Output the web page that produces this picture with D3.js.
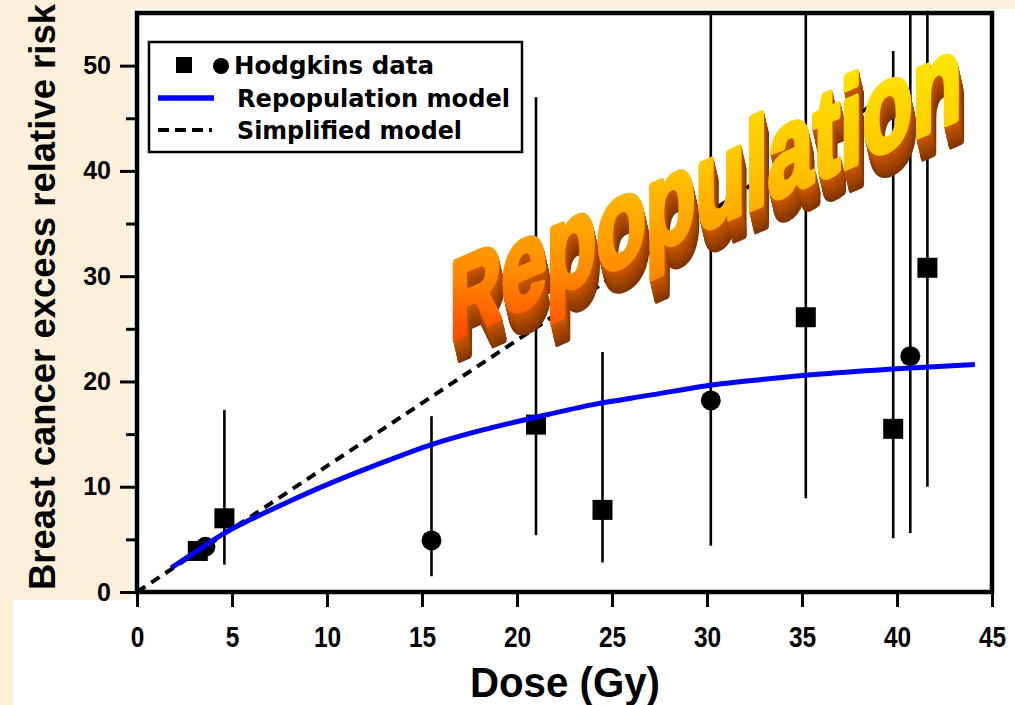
<!DOCTYPE html>
<html>
<head>
  <meta charset="utf-8">
  <script src="https://cdn.jsdelivr.net/npm/d3@7"></script>
  <style>
    body { margin: 0; background: #fcf0da; }
  </style>
</head>
<body>
  <svg id="chart" width="1015" height="705"></svg>
  <script>
    // Hodgkins data points
    let doses  = [3.2, 3.6, 4.6, 15.5, 21.0, 24.5, 30.2, 35.2, 39.8, 40.7, 41.6]
    let risks  = [3.9, 4.3, 7.0, 4.9, 15.9, 7.8, 18.2, 26.1, 15.5, 22.4, 30.8]
    let lows   = [null, null, 2.6, 1.5, 5.4, 2.8, 4.4, 8.9, 5.1, 5.6, 10.0]
    let highs  = [null, null, 17.3, 16.7, 47.0, 22.8, 60, 60, 51.4, 60, 60]
    let shapes = ["square", "circle", "square", "circle", "square", "square",
                  "circle", "square", "square", "circle", "square"]

    // repopulation model curve
    let repopDose = [1.8, 3, 4.6, 6, 8, 10, 12.5, 15.5, 18, 21, 24, 27, 30, 33, 36, 40, 44.1]
    let repopRisk = [2.3, 3.7, 5.6, 6.9, 8.6, 10.2, 12.0, 14.0, 15.3, 16.6, 17.8, 18.7, 19.6, 20.2, 20.7, 21.2, 21.6]

    // simplified (linear) model
    let simpDose = [0, 40.3]
    let simpRisk = [0, 48.2]

    let xTicks = [0, 5, 10, 15, 20, 25, 30, 35, 40, 45]
    let yTicks = [0, 10, 20, 30, 40, 50]
    let yMinor = [5, 15, 25, 35, 45]

    let svg = d3.select("#chart")

    let scX = d3.scaleLinear().domain([0, 45]).range([137, 992])
    let scY = d3.scaleLinear().domain([0, 55]).range([592, 13])

    let defs = svg.append("defs")
    defs.append("clipPath").attr("id", "plotClip")
        .append("rect")
        .attr("x", scX(0)).attr("y", scY(55))
        .attr("width", scX(45) - scX(0)).attr("height", scY(0) - scY(55))

    // white areas
    svg.append("rect").attr("x", 131).attr("y", 9)
       .attr("width", 884).attr("height", 591).attr("fill", "white")
    svg.append("rect").attr("x", 13).attr("y", 600)
       .attr("width", 1002).attr("height", 105).attr("fill", "white")

    let plot = svg.append("g").attr("clip-path", "url(#plotClip)")

    let pts = doses.map((d, i) => ({x: d, y: risks[i], lo: lows[i], hi: highs[i], s: shapes[i]}))

    // error bars
    plot.selectAll("line.err")
        .data(pts.filter(d => d.lo != null))
        .enter().append("line")
        .attr("class", "err")
        .attr("x1", d => scX(d.x)).attr("x2", d => scX(d.x))
        .attr("y1", d => scY(d.lo)).attr("y2", d => scY(d.hi))
        .attr("stroke", "black").attr("stroke-width", 2.6)

    // markers
    plot.selectAll("rect.sq")
        .data(pts.filter(d => d.s == "square"))
        .enter().append("rect")
        .attr("class", "sq")
        .attr("x", d => scX(d.x) - 10).attr("y", d => scY(d.y) - 10)
        .attr("width", 20).attr("height", 20)
        .attr("fill", "black")

    plot.selectAll("circle.ci")
        .data(pts.filter(d => d.s == "circle"))
        .enter().append("circle")
        .attr("class", "ci")
        .attr("cx", d => scX(d.x)).attr("cy", d => scY(d.y))
        .attr("r", 10).attr("fill", "black")

    let line = d3.line().x(d => scX(d[0])).y(d => scY(d[1]))

    plot.append("path")
        .datum(simpDose.map((d, i) => [d, simpRisk[i]]))
        .attr("d", line)
        .attr("fill", "none").attr("stroke", "black")
        .attr("stroke-width", 4).attr("stroke-dasharray", "10,7")

    plot.append("path")
        .datum(repopDose.map((d, i) => [d, repopRisk[i]]))
        .attr("d", line.curve(d3.curveCatmullRom))
        .attr("fill", "none").attr("stroke", "#0000ff")
        .attr("stroke-width", 5)

    // axes
    let xAxis = svg.append("g")
        .attr("transform", `translate(0,${scY(0)})`)
        .call(d3.axisBottom(scX).tickValues(xTicks).tickSize(15).tickPadding(19))
    xAxis.select(".domain").remove()
    xAxis.selectAll("line").attr("stroke-width", 3)
    xAxis.selectAll("text")
         .attr("font-family", "'Liberation Sans', Arial, sans-serif")
         .attr("font-weight", "bold").attr("font-size", 30).attr("fill", "black")
         .attr("textLength", d => String(d).length * 13.6)
         .attr("lengthAdjust", "spacingAndGlyphs")

    let yAxis = svg.append("g")
        .attr("transform", `translate(${scX(0)},0)`)
        .call(d3.axisLeft(scY).tickValues(yTicks).tickSize(17).tickPadding(9))
    yAxis.select(".domain").remove()
    yAxis.selectAll("line").attr("stroke-width", 3)
    yAxis.selectAll("text")
         .attr("font-family", "'Liberation Sans', Arial, sans-serif")
         .attr("font-weight", "bold").attr("font-size", 25).attr("fill", "black")

    let yMin = svg.append("g")
        .attr("transform", `translate(${scX(0)},0)`)
        .call(d3.axisLeft(scY).tickValues(yMinor).tickSize(11).tickFormat(""))
    yMin.select(".domain").remove()
    yMin.selectAll("line").attr("stroke-width", 3)

    // frame
    svg.append("rect")
       .attr("x", scX(0)).attr("y", scY(55))
       .attr("width", scX(45) - scX(0)).attr("height", scY(0) - scY(55))
       .attr("fill", "none").attr("stroke", "black").attr("stroke-width", 4.5)

    // axis titles
    svg.append("text")
       .attr("x", 565).attr("y", 697)
       .attr("text-anchor", "middle")
       .attr("font-family", "'Liberation Sans', Arial, sans-serif")
       .attr("font-weight", "bold").attr("font-size", 42)
       .attr("textLength", 190).attr("lengthAdjust", "spacingAndGlyphs")
       .text("Dose (Gy)")

    svg.append("text")
       .attr("transform", "translate(55,297) rotate(-90)")
       .attr("text-anchor", "middle")
       .attr("font-family", "'Liberation Sans', Arial, sans-serif")
       .attr("font-weight", "bold").attr("font-size", 36)
       .attr("textLength", 586).attr("lengthAdjust", "spacingAndGlyphs")
       .text("Breast cancer excess relative risk")

    // legend
    let leg = svg.append("g")
    leg.append("rect").attr("x", 149).attr("y", 42).attr("width", 373).attr("height", 110)
       .attr("fill", "white").attr("stroke", "black").attr("stroke-width", 2.5)
    leg.append("rect").attr("x", 176).attr("y", 57).attr("width", 16).attr("height", 16).attr("fill", "black")
    leg.append("circle").attr("cx", 221).attr("cy", 66).attr("r", 8).attr("fill", "black")
    leg.append("line").attr("x1", 158).attr("x2", 214).attr("y1", 98).attr("y2", 98)
       .attr("stroke", "#0000ff").attr("stroke-width", 5.5)
    leg.append("line").attr("x1", 158).attr("x2", 212).attr("y1", 130).attr("y2", 130)
       .attr("stroke", "black").attr("stroke-width", 4).attr("stroke-dasharray", "11,6")
    let legLabels = ["Hodgkins data", "Repopulation model", "Simplified model"]
    let legWidths = [200, 273, 225]
    leg.selectAll("text.lg").data(legLabels).enter().append("text")
       .attr("class", "lg")
       .attr("x", (d, i) => i == 0 ? 234 : 237)
       .attr("y", (d, i) => 74 + i * 32.5)
       .attr("font-family", "'DejaVu Sans', sans-serif")
       .attr("font-weight", "bold").attr("font-size", 24)
       .attr("textLength", (d, i) => legWidths[i]).attr("lengthAdjust", "spacingAndGlyphs")
       .text(d => d)

    // "Repopulation" word art
    let waFont = "'Liberation Sans', Arial, sans-serif"
    let waX = 450, waY = 340, waSkew = -23.5, waLen = 512
    let t = Math.tan(waSkew * Math.PI / 180)
    // gradient laid out so its bands run level on screen despite the skew
    let sTop = 50 - waY, sBot = 345 - waY
    let k = (sBot - sTop) / (1 + t * t)
    let grad = defs.append("linearGradient").attr("id", "waGrad")
        .attr("gradientUnits", "userSpaceOnUse")
        .attr("x1", 0).attr("y1", sTop)
        .attr("x2", k * t).attr("y2", sTop + k)
    grad.append("stop").attr("offset", 0).attr("stop-color", "#ffe800")
    grad.append("stop").attr("offset", 0.4).attr("stop-color", "#ffc400")
    grad.append("stop").attr("offset", 0.75).attr("stop-color", "#ff8c00")
    grad.append("stop").attr("offset", 1).attr("stop-color", "#ff4200")

    function wordArt(sel) {
      sel.attr("font-family", waFont).attr("font-weight", "bold")
         .attr("textLength", waLen).attr("lengthAdjust", "spacingAndGlyphs")
         .attr("stroke-width", 6).attr("stroke-linejoin", "round")
      sel.append("tspan").attr("font-size", 110).text("R")
      sel.append("tspan").attr("font-size", 126).text("epopulation")
    }

    let wa = svg.append("g")
    let depth = d3.range(17, 0, -1)
    let shade = d3.interpolateRgb("#cc5800", "#7e3400")
    wa.selectAll("text.ex").data(depth).enter().append("text")
      .attr("class", "ex")
      .attr("transform", i => `translate(${waX + i * 0.3},${waY + i * 1.3}) skewY(${waSkew})`)
      .attr("fill", i => shade(i / 17)).attr("stroke", i => shade(i / 17))
      .each(function() { wordArt(d3.select(this)) })

    wa.append("text")
      .attr("transform", `translate(${waX},${waY}) skewY(${waSkew})`)
      .attr("fill", "url(#waGrad)").attr("stroke", "url(#waGrad)")
      .call(wordArt)
  </script>
</body>
</html>
